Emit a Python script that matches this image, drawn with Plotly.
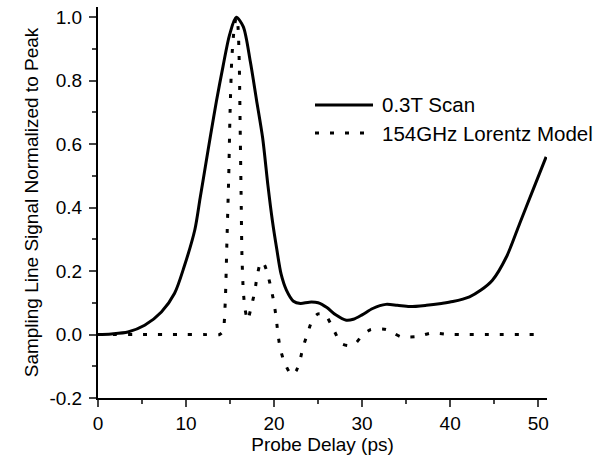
import plotly.graph_objects as go

# 0.3T Scan (solid)
scan_x = [0, 1.5, 3.4, 5.3, 7.2, 8.7, 9.8, 11.0, 11.6, 12.2, 12.8, 13.45, 14.2, 14.95, 15.7,
          16.5, 17.3, 18.0, 18.7, 19.3, 19.8, 20.3, 20.8, 21.4, 22.2, 23.0, 24.0, 25.0, 26.0,
          27.0, 28.2, 29.0, 30.0, 31.2, 32.7, 34.0, 35.4, 37.3, 39.0, 40.3, 42.2, 43.5, 44.8,
          46.4, 47.9, 49.4, 50.9]
scan_y = [0, 0.002, 0.008, 0.029, 0.071, 0.13, 0.215, 0.33, 0.43, 0.53, 0.63, 0.735, 0.845, 0.945, 1.0,
          0.97, 0.86, 0.74, 0.62, 0.47, 0.36, 0.27, 0.19, 0.14, 0.105, 0.098, 0.102, 0.10, 0.085,
          0.062, 0.045, 0.048, 0.062, 0.082, 0.095, 0.092, 0.088, 0.092, 0.098, 0.104, 0.119, 0.14, 0.171,
          0.245, 0.35, 0.455, 0.56]

# 154GHz Lorentz Model (dotted)
model_x = [0, 2, 4, 6, 8, 10, 12, 13.8, 14.2, 14.45, 14.65, 14.85, 15.0, 15.2, 15.45, 15.7,
           15.9, 16.05, 16.15, 16.25, 16.35, 16.5, 16.7, 17.0, 17.4, 17.8, 18.05, 18.5, 18.9,
           19.3, 19.7, 20.0, 20.25, 20.45, 20.7, 21.2, 22.0, 22.5, 22.9, 23.3, 23.8, 24.4, 25.0,
           25.8, 26.75, 27.6, 28.4, 29.3, 30.1, 31.0, 32.7, 33.6, 34.4, 36.1, 37.9, 39.6, 42, 45,
           48, 50.2]
model_y = [0, 0, 0, 0, 0, 0, 0, 0, 0.01, 0.1, 0.3, 0.5, 0.7, 0.87, 0.96, 1.0,
           0.97, 0.85, 0.65, 0.45, 0.25, 0.14, 0.08, 0.045, 0.087, 0.134, 0.18, 0.229, 0.22,
           0.187, 0.14, 0.098, 0.05, 0.0, -0.044, -0.09, -0.128, -0.115, -0.086, -0.039, 0.003, 0.05, 0.065,
           0.063, 0.016, -0.028, -0.035, -0.026, 0.0, 0.016, 0.016, 0.004, -0.007, -0.007, 0.005, 0.001, 0, 0,
           0, 0]

series_names = ["0.3T Scan", "154GHz Lorentz Model"]
x_ticks = [0, 10, 20, 30, 40, 50]
y_ticks = [-0.2, 0.0, 0.2, 0.4, 0.6, 0.8, 1.0]
y_tick_text = ["-0.2", "0.0", "0.2", "0.4", "0.6", "0.8", "1.0"]

FONT = "Liberation Sans, Arial, sans-serif"
DOT = "4px,11px"

fig = go.Figure()
fig.add_trace(go.Scatter(x=scan_x, y=scan_y, mode="lines", name=series_names[0],
                         line=dict(color="black", width=3, shape="spline", smoothing=0.8)))
fig.add_trace(go.Scatter(x=model_x, y=model_y, mode="lines", name=series_names[1],
                         line=dict(color="black", width=3, dash=DOT, shape="spline", smoothing=0.6)))

# legend drawn in paper coordinates to match the sample length of the original
leg_x0, leg_x1, leg_tx = 0.4833, 0.6125, 0.628
leg_rows = [0.7494, 0.6777]
shapes = [
    dict(type="line", xref="paper", yref="paper", x0=leg_x0, x1=leg_x1, y0=leg_rows[0], y1=leg_rows[0],
         line=dict(color="black", width=3)),
    dict(type="line", xref="paper", yref="paper", x0=leg_x0, x1=leg_x1, y0=leg_rows[1], y1=leg_rows[1],
         line=dict(color="black", width=3, dash=DOT)),
]
annotations = [
    dict(xref="paper", yref="paper", x=leg_tx, y=leg_rows[i], text=series_names[i], showarrow=False,
         xanchor="left", yanchor="middle", font=dict(size=20.5, family=FONT, color="black"))
    for i in range(2)
]

fig.update_layout(
    width=605, height=455,
    margin=dict(l=98, r=58, t=7, b=57),
    paper_bgcolor="white", plot_bgcolor="white",
    font=dict(family=FONT, color="black", size=19),
    showlegend=False,
    shapes=shapes, annotations=annotations,
    xaxis=dict(range=[0, 51], tickvals=x_ticks, ticks="outside", ticklen=7, tickwidth=2,
               showline=True, linewidth=2, linecolor="black", showgrid=False, zeroline=False,
               automargin=False,
               minor=dict(dtick=5, ticks="outside", ticklen=4, tickwidth=2, showgrid=False),
               title=dict(text="Probe Delay (ps)", standoff=0, font=dict(size=19)),
               tickfont=dict(size=19)),
    yaxis=dict(range=[-0.2, 1.032], tickvals=y_ticks, ticktext=y_tick_text, ticks="outside",
               ticklen=7, tickwidth=2, ticklabelstandoff=3,
               showline=True, linewidth=2, linecolor="black", showgrid=False, zeroline=False,
               automargin=False,
               minor=dict(dtick=0.1, tick0=0, ticks="outside", ticklen=4, tickwidth=2, showgrid=False),
               title=dict(text="Sampling Line Signal Normalized to Peak", standoff=6, font=dict(size=19)),
               tickfont=dict(size=19)),
)

fig.write_html("out.html", config={"displayModeBar": False},
               post_script="document.body.style.margin='0';document.body.style.overflow='hidden';")
